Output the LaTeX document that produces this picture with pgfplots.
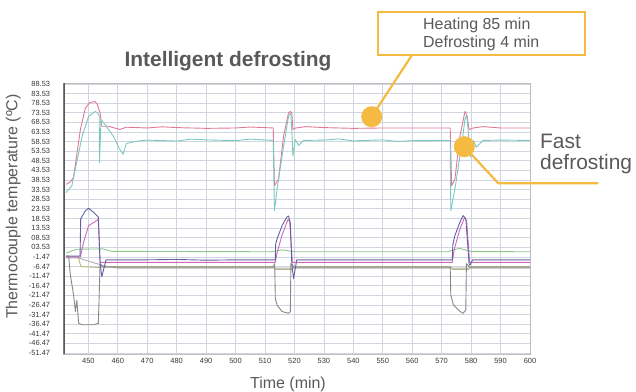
\documentclass[border=0pt]{standalone}
\usepackage{fontspec}
\setmainfont{Liberation Sans}
\usepackage{pgfplots}
\pgfplotsset{compat=1.18}
\definecolor{txt}{RGB}{89,89,89}
\definecolor{ticktxt}{RGB}{55,55,55}
\definecolor{orng}{RGB}{244,186,66}
\definecolor{gridc}{RGB}{208,214,224}
\definecolor{pinkA}{RGB}{226,120,150}
\definecolor{cyanA}{RGB}{125,200,190}
\definecolor{slateA}{RGB}{100,95,160}
\definecolor{grayB}{RGB}{135,135,135}
\definecolor{magC}{RGB}{205,105,185}
\definecolor{greenD}{RGB}{140,200,140}
\definecolor{oliveE}{RGB}{185,180,130}
\definecolor{lgrayF}{RGB}{175,175,175}
\begin{document}
\begin{tikzpicture}
\path[use as bounding box] (0bp,0bp) rectangle (636bp,392bp);
\begin{axis}[
  scale only axis, width=466.7bp, height=271bp,
  at={(63.3bp,38bp)}, anchor=south west,
  xmin=441.5, xmax=600, ymin=-52, ymax=89,
  xtick={450,460,470,480,490,500,510,520,530,540,550,560,570,580,590,600},
  xticklabels={450,460,470,480,490,500,510,520,530,540,550,560,570,580,590,600},
  ytick={-51.47,-46.47,-41.47,-36.47,-31.47,-26.47,-21.47,-16.47,-11.47,-6.47,-1.47,3.53,8.53,13.53,18.53,23.53,28.53,33.53,38.53,43.53,48.53,53.53,58.53,63.53,68.53,73.53,78.53,83.53,88.53},
  yticklabels={-51.47,-46.47,-41.47,-36.47,-31.47,-26.47,-21.47,-16.47,-11.47,-6.47,-1.47,03.53,08.53,13.53,18.53,23.53,28.53,33.53,38.53,43.53,48.53,53.53,58.53,63.53,68.53,73.53,78.53,83.53,88.53},
  major tick length=0pt,
  grid=major, major grid style={gridc, line width=0.7bp},
  axis line style={draw=black!25, line width=0.8bp},
  xticklabel style={font=\fontsize{7.5}{8}\selectfont, text=ticktxt, inner sep=0pt, yshift=-4bp},
  yticklabel style={font=\fontsize{7.5}{8}\selectfont, text=ticktxt, inner sep=0pt, xshift=-13bp},
  every axis plot/.append style={line width=0.9bp, line join=round},
  clip=true,
]
% upper pink
\addplot[pinkA] coordinates {
(442.5,36.3) (443.9,37.5) (445,40) (447.3,64.8) (449,76) (450.5,78.8) (452.3,79.4) (453,78) (454,73.4) (454.6,66.5) (456.8,66.5) (460.7,64.8) (462.9,66) (470,65.6) (475,66.2) (480,65.8) (490,65.4) (500,65.6) (505,66.1) (512.8,65.6)
(513.2,35.5) (514.6,39) (516.3,61.3) (518,73.4) (518.6,74.2) (519.1,73.4) (519.5,64.8) (520.4,65.6) (524,66.3) (530,65.8) (540,65.4) (550,65.6) (560,65.6) (572.9,65.6)
(573.4,35.5) (574.5,39) (576.2,61.3) (577.9,74.2) (578.6,72) (579.3,64.8) (580.7,65.6) (584,66.3) (590,65.6) (600,65.6)};
% upper cyan
\addplot[cyanA] coordinates {
(442.5,32) (444.4,35.6) (447.9,61.3) (450.1,71.6) (452.3,74.2) (453,73.5) (453.7,72) (453.8,47.6) (454.3,70) (455.7,67.3) (458.5,61.3) (460.5,55) (461.8,51.9) (462.9,57.5) (466.3,58.7) (470,59.3) (480,58.8) (485,59.8) (490,59.4) (500,59) (505,59.8) (512.8,59.1)
(513.2,22.6) (514.1,33.8) (516.3,56.1) (518,71.6) (518.8,73.4) (519.5,51) (520.3,59.6) (521.4,56.5) (523.1,59.1) (530,59.3) (535,59.9) (540,58.9) (550,59.4) (555,58.6) (560,59) (572.9,59.1)
(573.1,22.6) (574.5,33.8) (576.7,56) (577.9,70) (578.5,72.6) (579.8,50.4) (580.7,59.1) (581.8,55.6) (584,59.1) (590,59.3) (600,59.1)};
% green
\addplot[greenD] coordinates {
(442.5,0.5) (446,2.5) (455,2.7) (458,1.4) (512,1.2) (516,2.2) (520,1.2) (572,1.2) (576,3) (580,1.3) (600,1.2)};
% olive
\addplot[oliveE] coordinates {
(442.5,-1.5) (446.5,-1.5) (447.5,-6.5) (453.5,-7) (456,-6.5) (512.8,-6.5) (513.5,-8) (519,-8) (520,-6.5) (573,-6.5) (573.6,-8) (579,-8) (580,-6.5) (600,-6.5)};
% light gray
\addplot[lgrayF] coordinates {
(442.5,-2) (446.5,-2) (455,-6) (460,-7.3) (512.8,-7.3) (520,-7.3) (573,-7.3) (580,-7.3) (600,-7.3)};
% gray B
\addplot[grayB] coordinates {
(442.5,-1) (443.3,-1) (443.9,-11) (445,-21.3) (445.6,-29.9) (446.1,-24) (446.7,-36) (447.9,-36.8) (451.8,-36.8) (453.4,-36) (454,-5) (455,-6.8) (470,-6.8) (490,-6.8) (512.8,-6.8)
(513.3,-5) (513.5,-23) (514.1,-26.5) (515.8,-29.9) (518,-30.8) (518.6,-30) (518.8,-5) (520,-6.8) (540,-6.8) (572.9,-6.8)
(573.1,-21.3) (574,-26.5) (576.2,-29.9) (577.3,-30.8) (578.2,-29) (578.4,-5) (579.5,-6.8) (600,-6.8)};
% magenta lower
\addplot[magC] coordinates {
(442.5,-1.5) (447.3,-1.5) (448.4,6.2) (450.1,14.8) (451.8,16.4) (453.4,18) (454,-4.3) (470,-4.3) (500,-4.3) (513.5,-4.3)
(514,0) (515.8,10) (517.8,18) (518.4,17) (519.3,-4.3) (540,-4.3) (573.6,-4.3)
(574.2,2) (576,12) (577.8,19.2) (578.5,17) (579.5,-4.3) (600,-4.3)};
% slate A
\addplot[slateA] coordinates {
(442.5,-1) (447.2,-1) (447.4,18.3) (449,22.6) (450.1,23.8) (451.8,21.7) (453.4,19.2) (454,-5) (454.6,-11.8) (456,-3) (470,-3) (480,-2.8) (490,-3.2) (500,-3) (513.5,-3)
(513.6,5) (514.1,7.9) (515.8,14.8) (517.4,19.2) (518,19.8) (518.6,16) (519.1,-5) (519.7,-12.7) (520.8,-3) (530,-3) (550,-3) (573.6,-3)
(573.8,5) (574.5,9.7) (576.2,16.6) (577.3,20) (578.2,18.3) (579.3,-5) (579.6,-5.8) (580.5,-3) (590,-3) (600,-3)};
\draw[line width=2.5bp, black!65] (rel axis cs:0,0) -- (rel axis cs:0,1);
\end{axis}
% title and labels
\node[anchor=base, font=\fontsize{21}{25}\selectfont\bfseries, text=txt] at (228bp,325bp) {Intelligent defrosting};
\node[rotate=90, font=\fontsize{16}{19}\selectfont, text=txt] at (13.3bp,185.5bp) {Thermocouple temperature (ºC)};
\node[anchor=base, font=\fontsize{16}{19}\selectfont, text=txt] at (288bp,4bp) {Time (min)};
% callout box
\draw[orng, line width=2.5bp, fill=white] (378bp,337bp) rectangle (585bp,380bp);
\node[anchor=base west, inner sep=0pt, font=\fontsize{16}{19}\selectfont, text=txt] at (423bp,362.7bp) {Heating 85 min};
\node[anchor=base west, inner sep=0pt, font=\fontsize{16}{19}\selectfont, text=txt] at (423bp,344.7bp) {Defrosting 4 min};
\draw[orng, line width=2.2bp] (412bp,337bp) -- (371.7bp,275.3bp);
\fill[orng] (371.7bp,275.3bp) circle (10.5bp);
% fast defrosting callout
\draw[orng, line width=2.2bp] (464.3bp,245.3bp) -- (498.3bp,208.7bp) -- (598.3bp,208.7bp);
\fill[orng] (464.3bp,245.3bp) circle (10.5bp);
\node[anchor=base west, inner sep=0pt, font=\fontsize{21}{25}\selectfont, text=txt] at (540bp,243.7bp) {Fast};
\node[anchor=base west, inner sep=0pt, font=\fontsize{21}{25}\selectfont, text=txt] at (540bp,222bp) {defrosting};
\end{tikzpicture}
\end{document}
